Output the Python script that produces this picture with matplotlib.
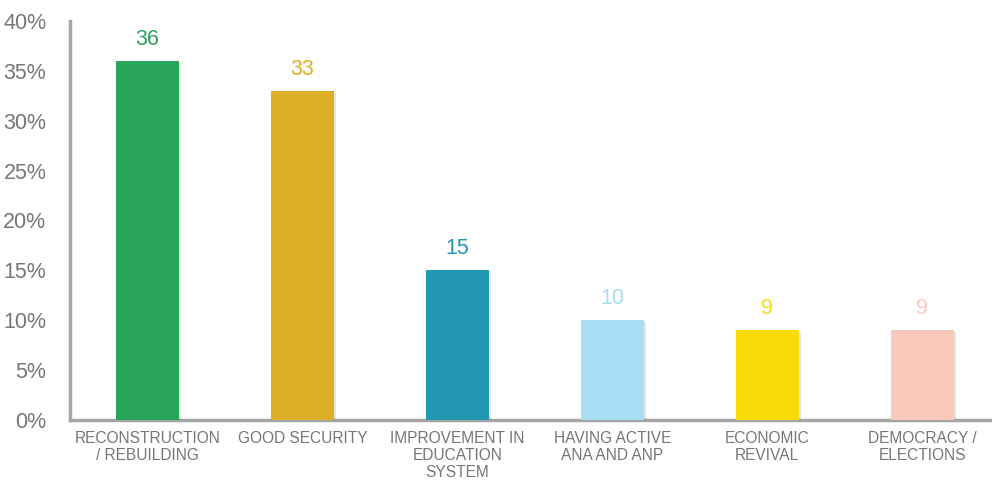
import matplotlib
matplotlib.use("Agg")
import matplotlib.pyplot as plt
from matplotlib import patheffects as pe

categories = ["RECONSTRUCTION\n/ REBUILDING", "GOOD SECURITY", "IMPROVEMENT IN\nEDUCATION\nSYSTEM",
              "HAVING ACTIVE\nANA AND ANP", "ECONOMIC\nREVIVAL", "DEMOCRACY /\nELECTIONS"]
values = [36, 33, 15, 10, 9, 9]
colors = ["#28A55A", "#DDAF28", "#2197B1", "#A8DEF4", "#F9DC07", "#F8C8BB"]

plt.rcParams["font.family"] = ["Liberation Sans", "DejaVu Sans"]

fig = plt.figure(figsize=(9.92, 4.8), dpi=100)
ax = fig.add_axes([70 / 992, 60 / 480, 922 / 992, 399 / 480])

x = range(len(values))
bars = ax.bar(x, values, width=0.41, color=colors, zorder=3)
for b in bars:
    b.set_path_effects([pe.SimplePatchShadow(offset=(1.5, -1.5), shadow_rgbFace="#000000", alpha=0.1), pe.Normal()])

for xi, v, c in zip(x, values, colors):
    ax.text(xi, v + 1.1, f"{v}", ha="center", va="bottom", fontsize=15.5, color=c)

ax.set_xlim(-0.5, 5.45)
ax.set_ylim(0, 40)
ax.set_yticks(range(0, 41, 5))
ax.set_yticklabels([f"{t}%" for t in range(0, 41, 5)], fontsize=15.5, color="#767676")
ax.set_xticks(list(x))
ax.set_xticklabels(categories, fontsize=11.2, color="#767676", linespacing=1.18)
ax.tick_params(axis="both", length=0)
ax.tick_params(axis="y", pad=17)
ax.tick_params(axis="x", pad=8)

for s in ["top", "right"]:
    ax.spines[s].set_visible(False)
for s in ["left", "bottom"]:
    ax.spines[s].set_color("#A6A6A6")
    ax.spines[s].set_linewidth(2.5)

fig.savefig("out.png", dpi=100)
